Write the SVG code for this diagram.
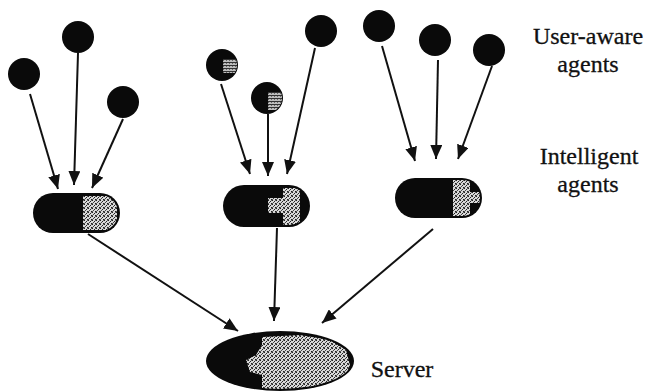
<svg xmlns="http://www.w3.org/2000/svg" width="648" height="392" viewBox="0 0 648 392">
  <style>
    .agent { fill: #0a0a0a; }
    .shell { fill: #0a0a0a; }
    .dots { fill: url(#dither); }
    .stripes { fill: url(#stripes); }
    .edge { stroke: #111; stroke-width: 2; fill: none; marker-end: url(#head); }
    .label { font-family: "Liberation Serif", "Times New Roman", serif; font-size: 24px; fill: #111; text-anchor: middle; stroke: #111; stroke-width: 0.3; }
  </style>
  <defs>
    <!-- dithered grey used for the shaded parts of agents and server -->
    <pattern id="dither" width="4" height="4" patternUnits="userSpaceOnUse">
      <rect width="4" height="4" fill="#d8d8d8"/>
      <rect x="0" y="0" width="1" height="1" fill="#222"/>
      <rect x="2" y="1" width="1" height="1" fill="#222"/>
      <rect x="1" y="2" width="1" height="1" fill="#444"/>
      <rect x="3" y="3" width="1" height="1" fill="#222"/>
      <rect x="3" y="0" width="1" height="1" fill="#666"/>
      <rect x="0" y="3" width="1" height="1" fill="#555"/>
    </pattern>
    <pattern id="stripes" width="3" height="3" patternUnits="userSpaceOnUse">
      <rect width="3" height="3" fill="#bdbdbd"/>
      <rect x="0" y="2" width="3" height="1" fill="#333"/>
      <rect x="1" y="0" width="1" height="1" fill="#666"/>
    </pattern>
    <marker id="head" viewBox="0 0 14 12" refX="14" refY="6" markerWidth="14" markerHeight="12" markerUnits="userSpaceOnUse" orient="auto">
      <path d="M0,0 L14,6 L0,12 Z" fill="#111"/>
    </marker>
    <clipPath id="clipPillL"><rect x="35" y="195" width="83" height="36" rx="18"/></clipPath>
    <clipPath id="clipPillM"><rect x="225" y="187" width="83" height="38" rx="19"/></clipPath>
    <clipPath id="clipPillR"><rect x="397" y="180" width="83" height="36" rx="18"/></clipPath>
    <clipPath id="clipServer"><ellipse cx="280" cy="361" rx="72" ry="28"/></clipPath>
    <clipPath id="clipD"><circle cx="222" cy="65" r="15"/></clipPath>
    <clipPath id="clipE"><circle cx="267" cy="98" r="15"/></clipPath>
  </defs>

  <!-- connectors -->
  <g id="connectors">
    <line class="edge" x1="30" y1="94" x2="58" y2="189"/>
    <line class="edge" x1="78" y1="53" x2="74" y2="185"/>
    <line class="edge" x1="123" y1="119" x2="92" y2="188"/>
    <line class="edge" x1="221" y1="84" x2="250" y2="174"/>
    <line class="edge" x1="268" y1="114" x2="268" y2="176"/>
    <line class="edge" x1="315" y1="48" x2="287" y2="174"/>
    <line class="edge" x1="382" y1="46" x2="415" y2="161"/>
    <line class="edge" x1="438" y1="60" x2="436" y2="159"/>
    <line class="edge" x1="492" y1="66" x2="458" y2="159"/>
    <line class="edge" x1="88" y1="234" x2="238" y2="331"/>
    <line class="edge" x1="277" y1="228" x2="274" y2="321"/>
    <line class="edge" x1="433" y1="229" x2="322" y2="323"/>
  </g>

  <!-- user-aware agents -->
  <g id="user-agent-1"><circle class="agent" cx="24" cy="74" r="16"/></g>
  <g id="user-agent-2"><circle class="agent" cx="78" cy="37" r="16"/></g>
  <g id="user-agent-3"><circle class="agent" cx="123" cy="102" r="16"/></g>
  <g id="user-agent-4">
    <circle class="agent" cx="222" cy="65" r="16"/>
    <rect class="stripes" x="223" y="59" width="16" height="14" clip-path="url(#clipD)"/>
  </g>
  <g id="user-agent-5">
    <circle class="agent" cx="267" cy="98" r="16"/>
    <rect class="stripes" x="268" y="92" width="18" height="18" clip-path="url(#clipE)"/>
  </g>
  <g id="user-agent-6"><circle class="agent" cx="321" cy="31" r="16"/></g>
  <g id="user-agent-7"><circle class="agent" cx="379" cy="26" r="16"/></g>
  <g id="user-agent-8"><circle class="agent" cx="435" cy="40" r="16"/></g>
  <g id="user-agent-9"><circle class="agent" cx="489" cy="50" r="16"/></g>

  <!-- intelligent agents -->
  <g id="intelligent-agent-1">
    <rect class="shell" x="33" y="193" width="87" height="40" rx="20"/>
    <rect class="dots" x="83" y="196" width="34" height="34" clip-path="url(#clipPillL)"/>
  </g>
  <g id="intelligent-agent-2">
    <rect class="shell" x="223" y="185" width="87" height="42" rx="21"/>
    <rect class="dots" x="283" y="188" width="17" height="37" clip-path="url(#clipPillM)"/>
    <rect class="dots" x="268" y="198" width="15" height="15"/>
  </g>
  <g id="intelligent-agent-3">
    <rect class="shell" x="395" y="178" width="87" height="40" rx="20"/>
    <rect class="dots" x="453" y="180" width="17" height="36" clip-path="url(#clipPillR)"/>
    <rect class="dots" x="470" y="192" width="10" height="11" clip-path="url(#clipPillR)"/>
  </g>

  <!-- server -->
  <g id="server">
    <ellipse class="shell" cx="280" cy="361" rx="74" ry="30"/>
    <path class="dots" clip-path="url(#clipServer)" d="M262,337 L300,335 L330,340 L346,350 L350,365 L345,378 L328,388 L300,392 L262,390 L262,375 L250,372 L246,360 L256,355 L262,345 Z"/>
  </g>

  <!-- labels -->
  <g id="labels">
    <text class="label" x="588" y="44">User-aware</text>
    <text class="label" x="588" y="72">agents</text>
    <text class="label" x="589" y="164">Intelligent</text>
    <text class="label" x="588" y="192">agents</text>
    <text class="label" x="402" y="377">Server</text>
  </g>
</svg>
